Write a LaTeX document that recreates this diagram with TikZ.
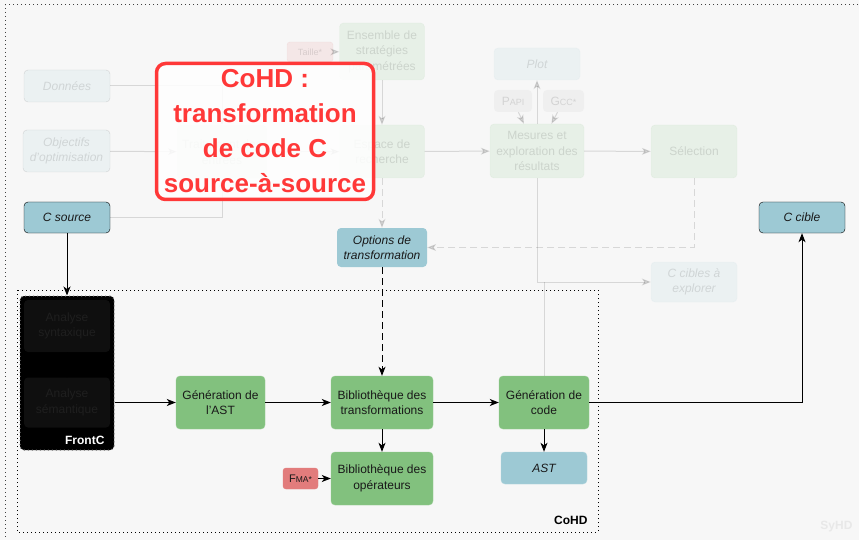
\documentclass[tikz,border=0pt]{standalone}
\usepackage{fontspec}
\setmainfont{Liberation Sans}
\usepackage{xcolor}
\usetikzlibrary{positioning,arrows.meta}

\definecolor{vert}{HTML}{82C17E}
\definecolor{vertbord}{HTML}{96CB92}
\definecolor{bleu}{HTML}{9DC9D4}
\definecolor{bleubord}{HTML}{B0D4DD}
\definecolor{rouge}{HTML}{E27C7C}
\definecolor{titre}{HTML}{FF3838}
\definecolor{fond}{HTML}{F7F7F7}

% fausses petites capitales
\newcommand{\pcap}[3][9]{#2{\fontsize{#1}{#1}\selectfont #3}}

\begin{document}
\begin{tikzpicture}[x=1pt, y=-1pt,
  boite/.style={rounded corners=4pt, align=center, inner sep=1pt, text=black!90,
    font=\fontsize{12}{15.5}\selectfont, minimum height=53pt},
  proc/.style={boite, fill=vert, draw=vertbord},
  donnee/.style={boite, fill=bleu, draw=bleubord, font=\fontsize{12}{15.5}\selectfont\itshape, minimum height=32pt},
  entree/.style={donnee, draw=black},
  opt/.style={boite, fill=rouge, draw=rouge, rounded corners=3pt, minimum height=21pt},
  fleche/.style={-{Stealth[length=9pt,width=7pt,inset=2.5pt]}, line width=1pt},
  tirets/.style={dash pattern=on 7pt off 4pt},
  cadre/.style={dash pattern=on 1pt off 3pt, line width=1pt},
  estompe/.style={opacity=0.13}]

  \fill[fond] (0,0) rectangle (859,540);
  \useasboundingbox (0,0) rectangle (859,540);

  % cadre SyHD
  \begin{scope}
    \clip (0,0) rectangle (859,540);
    \draw[cadre, black!75] (870,5) -- (5,5) -- (5,550);
  \end{scope}
  \node[anchor=east, text=black!9, font=\bfseries\fontsize{12}{12}\selectfont] (lsyhd) at (856,527) {SyHD};

  % cadre CoHD
  \draw[cadre] (17,290) rectangle (598,532);
  \node[anchor=east, font=\bfseries\fontsize{12}{12}\selectfont] (lcohd) at (591,520) {CoHD};

  \node[entree, minimum width=86pt, minimum height=31pt] (csrc) at (67,217.5) {C source};
  \node[entree, minimum width=86pt, minimum height=31pt] (ccib) at (802,217.5) {C cible};
  \node[donnee, draw=none, minimum width=90pt, minimum height=39pt] (opts) at (382,247.5) {Options de\\transformation};

  % FrontC
  \node[fill=black, draw=black!55, cadre, rounded corners=4pt, minimum width=94pt, minimum height=154pt] (frontc) at (67,373) {};
  \node[boite, fill=black!94!white, text=black!88!white, minimum width=86pt, minimum height=52pt] (synt) at (67,326) {Analyse\\syntaxique};
  \node[boite, fill=black!94!white, text=black!88!white, minimum width=86pt, minimum height=50pt] (sema) at (67,402.5) {Analyse\\sémantique};
  \node[anchor=east, text=white, font=\bfseries\fontsize{12}{12}\selectfont] (lfrontc) at (108,440) {FrontC};
  \draw[fleche] (synt) -- (sema);
  \draw[fleche] (csrc) -- (frontc);

  \node[proc, minimum width=89pt] (genast) at (220.5,402.5) {Génération de\\l'AST};
  \node[proc, minimum width=102pt] (bibtr) at (382,402.5) {Bibliothèque des\\transformations};
  \node[proc, minimum width=90pt] (gencod) at (544,402.5) {Génération de\\code};
  \node[proc, minimum width=102pt] (bibop) at (382,478.5) {Bibliothèque des\\opérateurs};
  \node[donnee, minimum width=86pt, minimum height=32pt] (astout) at (544,468) {AST};
  \node[opt, minimum width=35pt, font=\fontsize{11}{11}\selectfont] (fma) at (300.5,478.5) {\pcap[8.5]{F}{MA*}};

  \draw[fleche] (frontc.east |- sema) -- (genast);
  \draw[fleche] (genast) -- (bibtr);
  \draw[fleche] (bibtr) -- (gencod);
  \draw[fleche] (bibtr) -- (bibop);
  \draw[fleche] (gencod) -- (astout);
  \draw[fleche] (fma) -- (bibop);
  \draw[fleche, tirets] (opts) -- (bibtr);
  \draw[fleche] (gencod) -| (ccib);

  % partie exploration, en retrait
  \begin{scope}[estompe]
    \node[entree, minimum width=86pt, minimum height=32pt] (donn) at (67,86) {Données};
    \node[entree, minimum width=87pt, minimum height=42pt] (objs) at (66.5,151) {Objectifs\\d'optimisation};
    \node[proc, minimum width=90pt] (trait) at (222,152) {Traitement des\\entrées};
    \node[opt, minimum width=46pt, minimum height=20pt, font=\fontsize{9}{9}\selectfont] (taille) at (310,52) {Taille*};
    \node[proc, minimum width=85pt, minimum height=57pt] (ens) at (382,51.5) {Ensemble de\\stratégies\\paramétrées};
    \node[proc, minimum width=85pt] (espace) at (382,151.5) {Espace de\\recherche};
    \node[donnee, minimum width=86pt] (plot) at (537,64) {Plot};
    \node[boite, fill=black!25, minimum width=38pt, minimum height=22pt] (papi) at (513,101) {\pcap{P}{API}};
    \node[boite, fill=black!25, minimum width=41pt, minimum height=22pt] (gcc) at (563.5,101) {\pcap{G}{CC*}};
    \node[proc, minimum width=94pt, minimum height=54pt] (mes) at (537,151) {Mesures et\\exploration des\\résultats};
    \node[proc, minimum width=86pt] (sel) at (694,151.5) {Sélection};
    \node[donnee, minimum width=86pt, minimum height=40pt] (cexpl) at (694,282) {C cibles à\\explorer};

    \draw[fleche] (donn) -| (trait);
    \draw[fleche] (csrc) -| (trait);
    \draw[fleche] (objs) -- (trait);
    \draw[fleche] (trait) -- (espace);
    \draw[fleche] (taille) -- (ens);
    \draw[fleche] (ens) -- (espace);
    \draw[fleche] (espace) -- (mes);
    \draw[fleche, tirets] (espace) -- (opts);
    \draw[fleche] (mes) -- (plot);
    \draw[fleche] (papi) -- (mes);
    \draw[fleche] (gcc) -- (mes);
    \draw[fleche] (mes) -- (sel);
    \draw[fleche, tirets] (sel) |- (opts);
    \draw[fleche] (mes) |- (cexpl);
    \draw[line width=1pt] (gencod) -- (gencod.north |- cexpl);
  \end{scope}

  % encart titre
  \node[draw=titre, line width=3.5pt, rounded corners=9pt, fill=white, fill opacity=0.85, text opacity=1,
    text=titre, align=center, font=\bfseries\fontsize{26}{35}\selectfont,
    minimum width=217pt, minimum height=136pt] (encart) at (265,131.5)
    {CoHD :\\transformation\\de code C\\source-à-source};
\end{tikzpicture}
\end{document}
